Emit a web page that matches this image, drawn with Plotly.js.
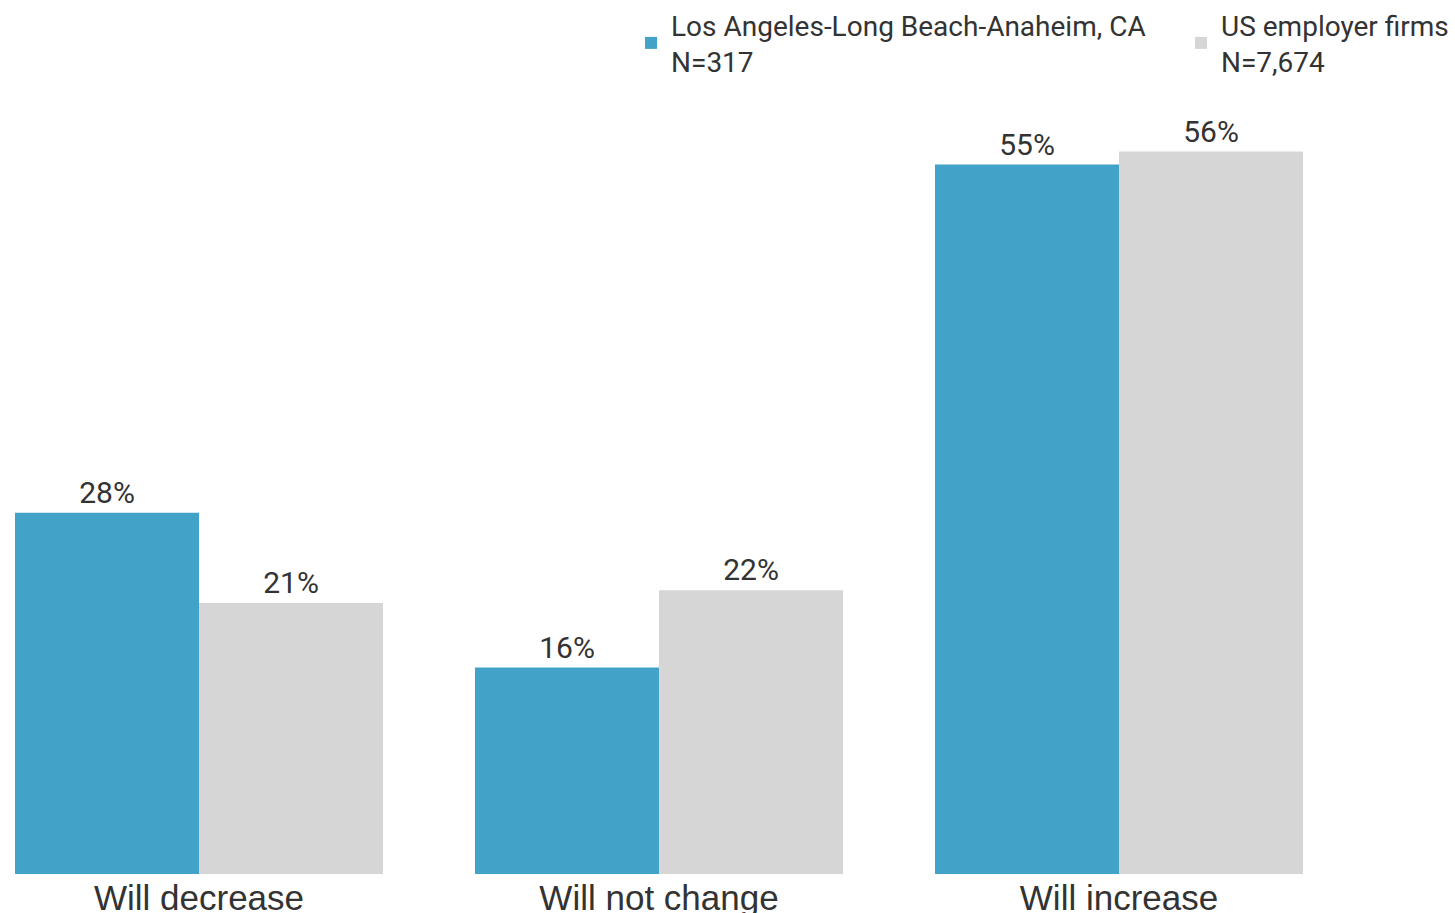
<!DOCTYPE html>
<html>
<head>
<meta charset="utf-8">
<script src="https://cdn.plot.ly/plotly-3.0.1.min.js"></script>
<style>html,body{margin:0;padding:0;background:#fff;}#chart{width:1455px;height:913px;}</style>
</head>
<body>
<div id="chart"></div>
<script>
const categories = ["Will decrease", "Will not change", "Will increase"];
const seriesNames = ["Los Angeles-Long Beach-Anaheim, CA<br>N=317", "US employer firms<br>N=7,674"];
const laValues = [28, 16, 55];
const usValues = [21, 22, 56];

const colors = ["#42a2c7", "#d6d6d6"];
const textFont = {family: "Roboto, sans-serif", size: 30, color: "#333333"};
const legendFont = {family: "Roboto, sans-serif", size: 28, color: "#333333"};

function barTrace(name, vals, color, legendId) {
  return {
    type: "bar",
    name: name,
    legend: legendId,
    x: categories,
    y: vals,
    marker: {color: color, line: {width: 0}},
    text: vals.map(v => v + "%"),
    textposition: "outside",
    textfont: textFont,
    cliponaxis: false,
    constraintext: "none",
    hoverinfo: "skip"
  };
}

const data = [
  barTrace(seriesNames[0], laValues, colors[0], "legend"),
  barTrace(seriesNames[1], usValues, colors[1], "legend2")
];

function legendAt(x) {
  return {
    orientation: "h",
    x: x,
    xanchor: "left",
    y: 1,
    yanchor: "top",
    yref: "container",
    font: legendFont,
    bgcolor: "rgba(0,0,0,0)",
    itemclick: false
  };
}

const layout = {
  width: 1455,
  height: 913,
  margin: {l: 0, r: 0, t: 100, b: 39, pad: 0},
  paper_bgcolor: "#ffffff",
  plot_bgcolor: "#ffffff",
  barmode: "group",
  bargap: 0.2,
  bargroupgap: 0,
  showlegend: true,
  legend: legendAt(0.4337),
  legend2: legendAt(0.8117),
  xaxis: {
    type: "category",
    range: [-0.4326, 2.7304],
    showgrid: false,
    zeroline: false,
    showline: false,
    ticks: "",
    automargin: false,
    tickfont: {family: "Liberation Sans, Arial, sans-serif", size: 35, color: "#333333"},
    fixedrange: true
  },
  yaxis: {
    range: [0, 60],
    visible: false,
    showgrid: false,
    zeroline: false,
    fixedrange: true
  }
};

Plotly.newPlot("chart", data, layout, {displayModeBar: false, staticPlot: true});
</script>
</body>
</html>
